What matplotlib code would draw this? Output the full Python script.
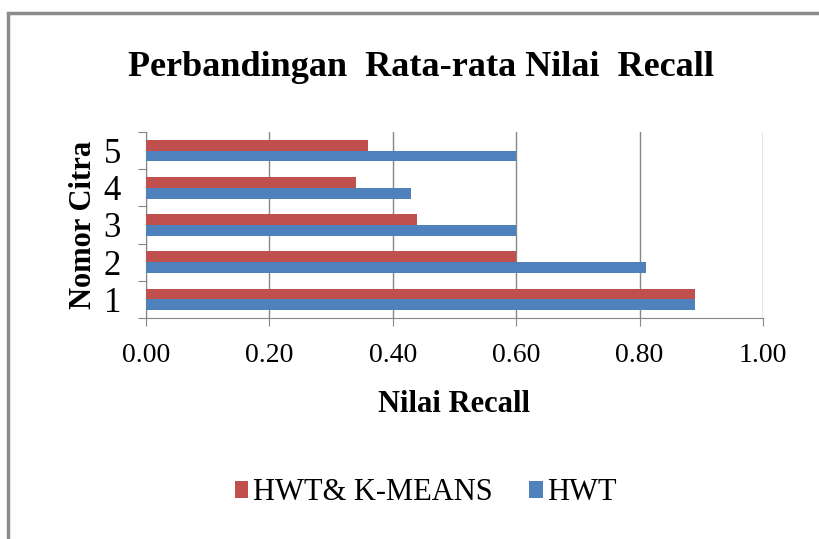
import matplotlib.pyplot as plt
import numpy as np
from matplotlib.patches import Rectangle

# data
nomor_citra = ["1", "2", "3", "4", "5"]
hwt_kmeans = [0.89, 0.60, 0.44, 0.34, 0.36]
hwt = [0.89, 0.81, 0.60, 0.43, 0.60]
x_ticks = [0.0, 0.2, 0.4, 0.6, 0.8, 1.0]

RED = "#C0504D"
BLUE = "#4F81BD"
GRID = "#868686"

plt.rcParams["font.family"] = ["Liberation Serif", "DejaVu Serif"]

fig = plt.figure(figsize=(8.19, 5.39), dpi=100)
ax = fig.add_axes([146 / 819, 1 - 318 / 539, (763 - 146) / 819, (318 - 132) / 539])

# gray frame around the chart area (cut off at right/bottom like the source)
fig.patches.append(Rectangle((8 / 819, -0.1), 1.2, 1 - 13 / 539 + 0.1,
                             transform=fig.transFigure, fill=False,
                             edgecolor="#8c8c8c", linewidth=2.5))

y = np.arange(1, len(nomor_citra) + 1)
h = 0.29
ax.barh(y - h / 2, hwt, height=h, color=BLUE, label="HWT", zorder=3)
ax.barh(y + h / 2, hwt_kmeans, height=h, color=RED, label="HWT& K-MEANS", zorder=3)

ax.set_xlim(0, 1.0)
ax.set_ylim(0.5, len(nomor_citra) + 0.5)
ax.set_xticks(x_ticks)
ax.set_xticklabels([f"{v:.2f}" for v in x_ticks], fontsize=20)
ax.set_yticks(np.arange(0.5, len(nomor_citra) + 1, 1.0))
ax.set_yticklabels([])
ax.set_yticks(y, minor=True)
ax.set_yticklabels(nomor_citra, minor=True, fontsize=25)
ax.tick_params(axis="y", which="minor", length=0, pad=18)
ax.tick_params(axis="y", which="major", length=6, color=GRID, direction="out")
ax.tick_params(axis="x", length=6, color=GRID, direction="out", pad=12)

ax.grid(axis="x", color=GRID, linewidth=1.0, zorder=0)
for s in ["top", "right"]:
    ax.spines[s].set_visible(False)
for s in ["left", "bottom"]:
    ax.spines[s].set_color(GRID)

ax.set_xlabel("Nilai Recall", fontsize=22, fontweight="bold", labelpad=16)
ax.set_ylabel("Nomor Citra", fontsize=22, fontweight="bold", labelpad=4)

fig.text(0.514, 1 - 68 / 539, "Perbandingan  Rata-rata Nilai  Recall",
         ha="center", va="center", fontsize=26, fontweight="bold")

handles, labels = ax.get_legend_handles_labels()
fig.legend(handles[::-1], labels[::-1], loc="center", bbox_to_anchor=(0.52, 1 - 493 / 539),
           ncol=2, frameon=False, fontsize=22, handlelength=0.45, handleheight=0.45,
           handletextpad=0.15, columnspacing=1.2)

fig.savefig("out.png", dpi=100)
